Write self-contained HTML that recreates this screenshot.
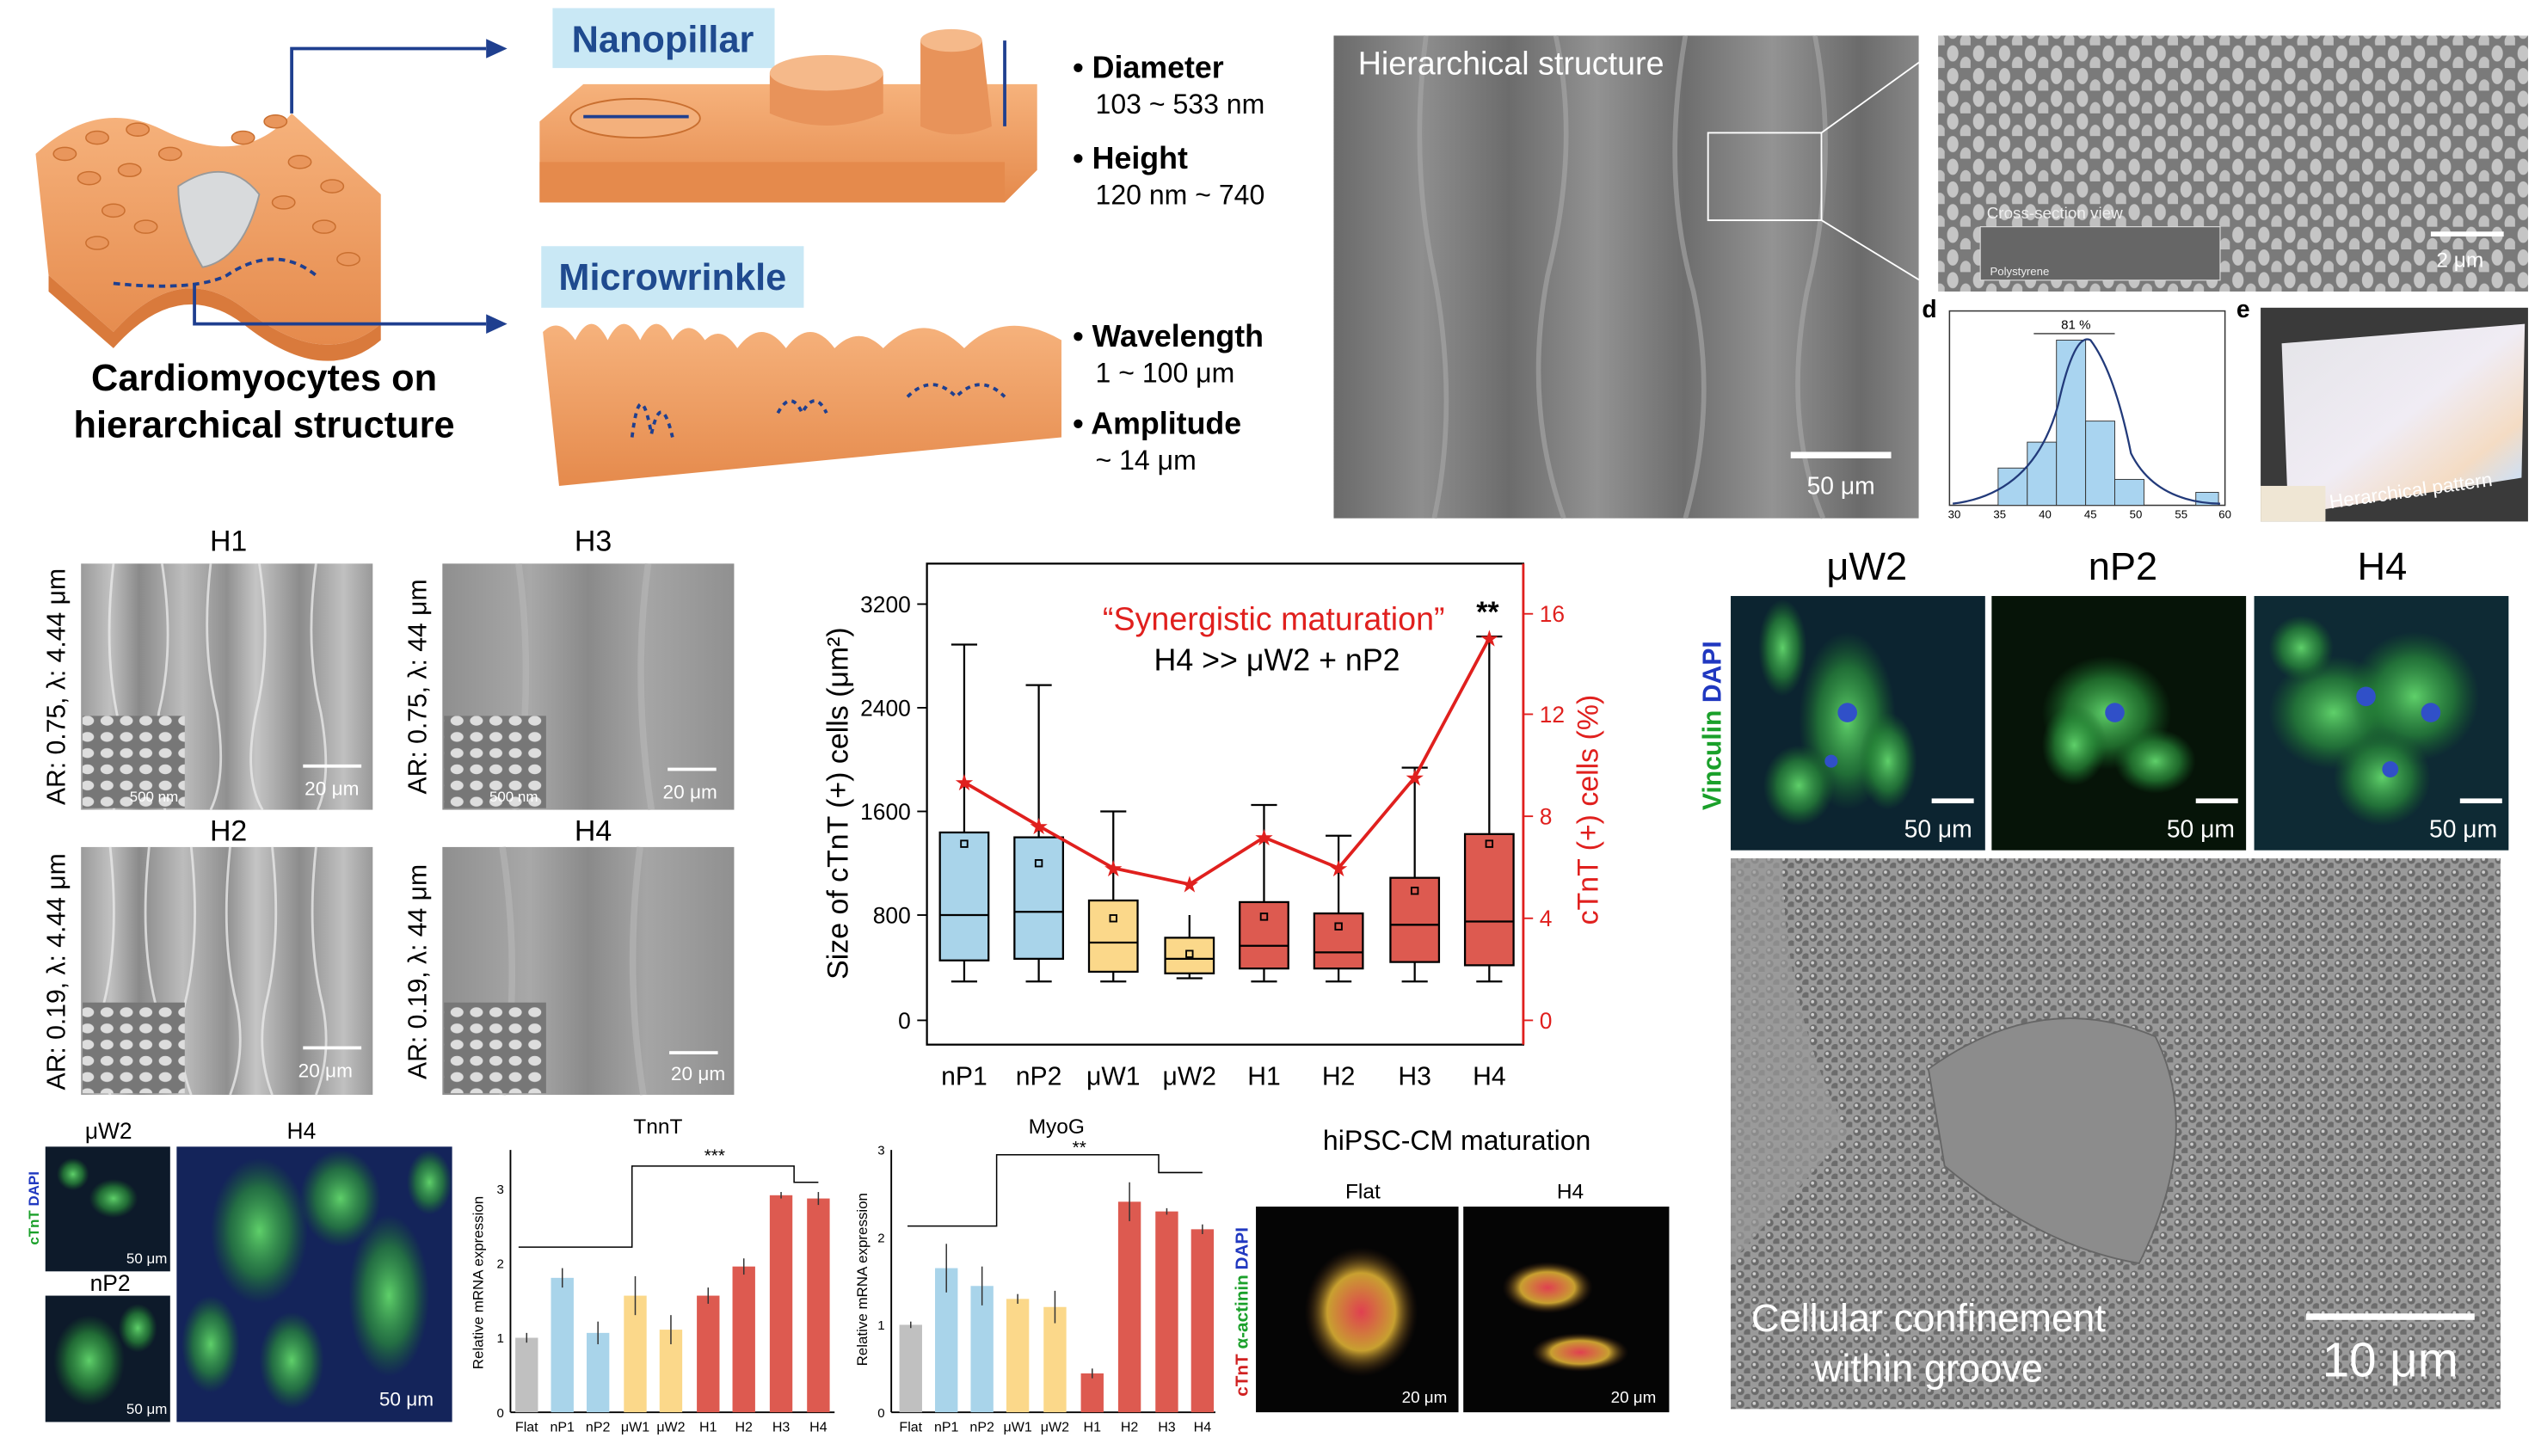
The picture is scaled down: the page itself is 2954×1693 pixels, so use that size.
<!DOCTYPE html>
<html><head><meta charset="utf-8"><style>
html,body{margin:0;padding:0;background:#fff;}
svg{display:block;}
text{font-family:"Liberation Sans",Arial,sans-serif;}
</style></head><body>
<svg width="2954" height="1693" viewBox="0 0 1568 899" preserveAspectRatio="none" xmlns="http://www.w3.org/2000/svg">
<defs>
<linearGradient id="orange" x1="0" y1="0" x2="0" y2="1"><stop offset="0" stop-color="#f6b27c"/><stop offset="1" stop-color="#e58a4c"/></linearGradient>
<linearGradient id="semg" x1="0" y1="0" x2="1" y2="0">
<stop offset="0" stop-color="#6a6a6a"/><stop offset="0.15" stop-color="#8e8e8e"/><stop offset="0.3" stop-color="#6c6c6c"/><stop offset="0.45" stop-color="#929292"/><stop offset="0.6" stop-color="#6e6e6e"/><stop offset="0.75" stop-color="#939393"/><stop offset="0.9" stop-color="#6b6b6b"/><stop offset="1" stop-color="#888"/></linearGradient>
<linearGradient id="semg2" x1="0" y1="0" x2="1" y2="0">
<stop offset="0" stop-color="#9a9a9a"/><stop offset="0.1" stop-color="#c0c0c0"/><stop offset="0.2" stop-color="#8a8a8a"/><stop offset="0.35" stop-color="#bcbcbc"/><stop offset="0.5" stop-color="#909090"/><stop offset="0.6" stop-color="#c5c5c5"/><stop offset="0.75" stop-color="#8c8c8c"/><stop offset="0.9" stop-color="#c0c0c0"/><stop offset="1" stop-color="#999"/></linearGradient>
<linearGradient id="semg3" x1="0" y1="0" x2="1" y2="0">
<stop offset="0" stop-color="#8f8f8f"/><stop offset="0.3" stop-color="#a8a8a8"/><stop offset="0.5" stop-color="#8a8a8a"/><stop offset="0.7" stop-color="#a5a5a5"/><stop offset="1" stop-color="#909090"/></linearGradient>
<linearGradient id="irid" x1="0" y1="0" x2="1" y2="1"><stop offset="0" stop-color="#e4e4e8"/><stop offset="0.5" stop-color="#f0ecf4"/><stop offset="0.75" stop-color="#f4dcc4"/><stop offset="0.9" stop-color="#cfe0f4"/><stop offset="1" stop-color="#ecc8dc"/></linearGradient>
<pattern id="pill" width="16" height="14" patternUnits="userSpaceOnUse"><rect width="16" height="14" fill="#7a7a7a"/><ellipse cx="5" cy="5" rx="3.5" ry="5" fill="#c5c5c5"/><ellipse cx="13" cy="12" rx="3.5" ry="5" fill="#c0c0c0"/></pattern>
<pattern id="dots" width="9" height="8" patternUnits="userSpaceOnUse"><rect width="9" height="8" fill="#9a9a9a"/><circle cx="3" cy="3" r="2.4" fill="#6a6a6a"/><circle cx="7.5" cy="7" r="2.4" fill="#6c6c6c"/><circle cx="2.5" cy="2.5" r="1" fill="#cfcfcf"/></pattern>
<pattern id="small" width="12" height="10" patternUnits="userSpaceOnUse"><rect width="12" height="10" fill="#777"/><ellipse cx="6" cy="5" rx="4" ry="3" fill="#ddd"/></pattern>
<radialGradient id="gcell"><stop offset="0" stop-color="#5fd06a"/><stop offset="0.6" stop-color="#2a8e3a" stop-opacity="0.7"/><stop offset="1" stop-color="#1a6e2a" stop-opacity="0"/></radialGradient>
<radialGradient id="rcell"><stop offset="0" stop-color="#e04050"/><stop offset="0.6" stop-color="#c8a030"/><stop offset="1" stop-color="#402010" stop-opacity="0"/></radialGradient>
</defs>

<!-- Top-left schematic -->
<path d="M22 95 Q60 60 100 80 Q150 105 180 70 L235 120 L235 200 Q200 230 150 190 Q110 160 70 205 L30 170 Z" fill="url(#orange)"/>
<path d="M30 170 L70 205 Q110 160 150 190 Q200 230 235 200 L235 210 Q200 240 150 200 Q110 170 70 215 L30 180Z" fill="#d97a3c"/>
<g fill="#e9965c" stroke="#c96f30" stroke-width="0.8">
<ellipse cx="40" cy="95" rx="7" ry="4"/><ellipse cx="60" cy="85" rx="7" ry="4"/><ellipse cx="85" cy="80" rx="7" ry="4"/><ellipse cx="55" cy="110" rx="7" ry="4"/><ellipse cx="80" cy="105" rx="7" ry="4"/><ellipse cx="105" cy="95" rx="7" ry="4"/><ellipse cx="70" cy="130" rx="7" ry="4"/><ellipse cx="150" cy="85" rx="7" ry="4"/><ellipse cx="170" cy="75" rx="7" ry="4"/><ellipse cx="185" cy="100" rx="7" ry="4"/><ellipse cx="205" cy="115" rx="7" ry="4"/><ellipse cx="175" cy="125" rx="7" ry="4"/><ellipse cx="200" cy="140" rx="7" ry="4"/><ellipse cx="215" cy="160" rx="7" ry="4"/><ellipse cx="60" cy="150" rx="7" ry="4"/><ellipse cx="90" cy="140" rx="7" ry="4"/></g>
<path d="M110 115 Q140 95 160 120 Q150 160 125 165 Q110 140 110 115Z" fill="#d8dadc" stroke="#999"/>
<path d="M70 175 Q120 180 140 170 Q170 150 195 170" fill="none" stroke="#1f3f8f" stroke-width="2" stroke-dasharray="4 3"/>
<path d="M180 70 L180 30 L300 30" fill="none" stroke="#1f3f8f" stroke-width="2"/><polygon points="300,24 313,30 300,36" fill="#1f3f8f"/>
<path d="M120 175 L120 200 L300 200" fill="none" stroke="#1f3f8f" stroke-width="2"/><polygon points="300,194 313,200 300,206" fill="#1f3f8f"/>
<text x="163" y="241" font-size="23" font-weight="bold" text-anchor="middle">Cardiomyocytes on</text>
<text x="163" y="270" font-size="23" font-weight="bold" text-anchor="middle">hierarchical structure</text>

<!-- Nanopillar -->
<rect x="341" y="5" width="137" height="37" fill="#c9e8f5"/>
<text x="409" y="32" font-size="23" font-weight="bold" fill="#1f4a8f" text-anchor="middle">Nanopillar</text>
<polygon points="333,75 360,52 640,52 640,105 620,125 333,125" fill="url(#orange)"/>
<polygon points="333,100 620,100 620,125 333,125" fill="#e58a4c"/>
<ellipse cx="392" cy="73" rx="40" ry="12" fill="#f3b07c" stroke="#c96f30"/>
<path d="M475 45 L475 70 Q510 85 545 70 L545 45Z" fill="#e8935a"/><ellipse cx="510" cy="45" rx="35" ry="11" fill="#f5b98a"/>
<path d="M568 25 L568 78 Q590 88 612 78 L606 25Z" fill="#e8935a"/><ellipse cx="587" cy="25" rx="19" ry="7" fill="#f5b98a"/>
<line x1="360" y1="72" x2="425" y2="72" stroke="#1f3f8f" stroke-width="2"/>
<line x1="620" y1="25" x2="620" y2="78" stroke="#1f3f8f" stroke-width="2"/>
<!-- Microwrinkle -->
<rect x="334" y="152" width="162" height="38" fill="#c9e8f5"/>
<text x="415" y="179" font-size="23" font-weight="bold" fill="#1f4a8f" text-anchor="middle">Microwrinkle</text>
<path d="M335 205 Q345 195 355 210 Q365 190 375 210 Q385 190 395 210 Q405 190 415 210 Q425 195 435 210 Q445 200 455 215 Q470 195 485 215 Q500 195 515 215 Q530 200 545 215 Q570 190 595 215 Q620 190 655 210 L655 270 L345 300 Z" fill="url(#orange)"/>
<path d="M390 270 Q395 230 402 268 Q408 240 415 270 M480 255 Q488 240 495 255 Q503 240 510 255 M560 245 Q575 230 590 245 Q605 230 620 245" fill="none" stroke="#1f3f8f" stroke-width="2" stroke-dasharray="3 3"/>
<!-- bullets -->
<g font-size="19">
<text x="662" y="48" font-weight="bold">• Diameter</text><text x="676" y="70" font-size="17">103 ~ 533 nm</text>
<text x="662" y="104" font-weight="bold">• Height</text><text x="676" y="126" font-size="17">120 nm ~ 740</text>
<text x="662" y="214" font-weight="bold">• Wavelength</text><text x="676" y="236" font-size="17">1 ~ 100 μm</text>
<text x="662" y="268" font-weight="bold">• Amplitude</text><text x="676" y="290" font-size="17">~ 14 μm</text>
</g>

<!-- Hierarchical SEM -->
<rect x="823" y="22" width="361" height="298" fill="url(#semg)"/>
<g fill="none" stroke="#a8a8a8" stroke-width="3" opacity="0.6">
<path d="M880 22 Q870 100 885 170 Q900 250 885 320"/><path d="M960 22 Q975 90 955 170 Q940 250 965 320"/><path d="M1040 22 Q1025 110 1045 180 Q1060 250 1040 320"/><path d="M1120 22 Q1135 100 1115 180 Q1100 260 1125 320"/></g>
<text x="838" y="46" font-size="20" fill="#fff">Hierarchical structure</text>
<rect x="1054" y="82" width="70" height="54" fill="none" stroke="#fff"/>
<line x1="1124" y1="82" x2="1196" y2="30" stroke="#fff"/><line x1="1124" y1="136" x2="1196" y2="180" stroke="#fff"/>
<rect x="1105" y="279" width="62" height="4" fill="#fff"/>
<text x="1136" y="305" font-size="15" fill="#fff" text-anchor="middle">50 μm</text>
<!-- top-right pillars -->
<rect x="1196" y="22" width="364" height="158" fill="url(#pill)"/>
<rect x="1222" y="140" width="148" height="33" fill="#666" stroke="#ddd" stroke-width="0.6"/>
<text x="1226" y="135" font-size="10" fill="#eee">Cross-section view</text>
<text x="1228" y="170" font-size="7" fill="#eee">Polystyrene</text>
<rect x="1500" y="143" width="45" height="3" fill="#fff"/><text x="1518" y="165" font-size="13" fill="#fff" text-anchor="middle">2 μm</text>
<!-- d histogram -->
<text x="1186" y="196" font-size="15" font-weight="bold">d</text>
<rect x="1203" y="192" width="170" height="120" fill="none" stroke="#333" stroke-width="0.8"/>
<g fill="#a9d4f0" stroke="#333" stroke-width="0.5">
<rect x="1233" y="289" width="18" height="23"/><rect x="1251" y="273" width="18" height="39"/><rect x="1269" y="210" width="18" height="102"/><rect x="1287" y="260" width="18" height="52"/><rect x="1305" y="296" width="18" height="16"/><rect x="1355" y="304" width="14" height="8"/></g>
<path d="M1205 311 Q1255 305 1270 250 Q1280 205 1290 210 Q1305 230 1315 280 Q1330 310 1370 311" fill="none" stroke="#223a7a" stroke-width="1.2"/>
<line x1="1255" y1="206" x2="1305" y2="206" stroke="#333" stroke-width="0.7"/><text x="1281" y="203" font-size="8" text-anchor="middle">81 %</text>
<g font-size="7" text-anchor="middle"><text x="1206" y="320">30</text><text x="1234" y="320">35</text><text x="1262" y="320">40</text><text x="1290" y="320">45</text><text x="1318" y="320">50</text><text x="1346" y="320">55</text><text x="1373" y="320">60</text></g>
<!-- e -->
<text x="1380" y="196" font-size="15" font-weight="bold">e</text>
<rect x="1395" y="190" width="165" height="132" fill="#3a3a3a"/>
<polygon points="1408,212 1558,200 1556,295 1412,318" fill="url(#irid)"/>
<rect x="1395" y="300" width="40" height="22" fill="#efe6d4"/>
<text x="1438" y="314" font-size="12" fill="#fff" transform="rotate(-8 1438 314)">Herarchical pattern</text>

<!-- H panels -->
<g font-size="18" text-anchor="middle"><text x="141" y="340">H1</text><text x="366" y="340">H3</text><text x="141" y="519">H2</text><text x="366" y="519">H4</text></g>
<rect x="50" y="348" width="180" height="152" fill="url(#semg2)"/>
<rect x="273" y="348" width="180" height="152" fill="url(#semg3)"/>
<rect x="50" y="523" width="180" height="153" fill="url(#semg2)"/>
<rect x="273" y="523" width="180" height="153" fill="url(#semg3)"/>
<g fill="none" stroke="#e8e8e8" stroke-width="1.5" opacity="0.8">
<path d="M70 348 Q64 400 72 440 Q80 480 70 500"/><path d="M100 348 Q108 400 98 440 Q92 480 102 500"/><path d="M130 348 Q124 400 134 440 Q140 480 130 500"/><path d="M160 348 Q168 400 158 440 Q150 480 162 500"/><path d="M195 348 Q188 400 198 440 Q205 480 196 500"/>
<path d="M68 523 Q74 580 64 620 Q58 650 68 676"/><path d="M92 523 Q86 580 96 620"/><path d="M118 523 Q124 580 114 620 Q108 650 118 676"/><path d="M142 523 Q136 580 146 620 Q152 650 142 676"/><path d="M168 523 Q174 580 164 620 Q158 650 168 676"/><path d="M195 523 Q189 580 199 620 Q205 650 195 676"/></g>
<g fill="none" stroke="#b8b8b8" stroke-width="4" opacity="0.6">
<path d="M320 348 Q330 420 318 500"/><path d="M400 348 Q390 420 402 500"/><path d="M310 523 Q322 600 310 676"/><path d="M395 523 Q385 600 397 676"/></g>
<rect x="51" y="442" width="63" height="57" fill="url(#small)"/>
<rect x="274" y="442" width="63" height="57" fill="url(#small)"/>
<rect x="51" y="619" width="63" height="56" fill="url(#small)"/>
<rect x="274" y="619" width="63" height="56" fill="url(#small)"/>
<g fill="#fff" font-size="12"><rect x="187" y="472" width="36" height="2"/><text x="188" y="491">20 μm</text>
<rect x="412" y="474" width="30" height="2"/><text x="409" y="493">20 μm</text>
<rect x="187" y="646" width="36" height="2"/><text x="184" y="665">20 μm</text>
<rect x="413" y="649" width="30" height="2"/><text x="414" y="667">20 μm</text>
<text x="80" y="495" font-size="9">500 nm</text><text x="302" y="495" font-size="9">500 nm</text></g>
<g font-size="16"><text transform="translate(40 424) rotate(-90)" text-anchor="middle">AR: 0.75, λ: 4.44 μm</text>
<text transform="translate(263 424) rotate(-90)" text-anchor="middle">AR: 0.75, λ: 44 μm</text>
<text transform="translate(40 600) rotate(-90)" text-anchor="middle">AR: 0.19, λ: 4.44 μm</text>
<text transform="translate(263 600) rotate(-90)" text-anchor="middle">AR: 0.19, λ: 44 μm</text></g>

<!-- Box plot -->
<rect x="572" y="348" width="368" height="297" fill="none" stroke="#000" stroke-width="1.2"/>
<line x1="940" y1="348" x2="940" y2="645" stroke="#e0201e" stroke-width="1.5"/>
<g font-size="14" text-anchor="end">
<text x="562" y="635">0</text><text x="562" y="570">800</text><text x="562" y="506">1600</text><text x="562" y="442">2400</text><text x="562" y="378">3200</text></g>
<g stroke="#000"><line x1="566" y1="630" x2="572" y2="630"/><line x1="566" y1="565" x2="572" y2="565"/><line x1="566" y1="501" x2="572" y2="501"/><line x1="566" y1="437" x2="572" y2="437"/><line x1="566" y1="373" x2="572" y2="373"/></g>
<g font-size="14" fill="#e0201e"><text x="950" y="635">0</text><text x="950" y="572">4</text><text x="950" y="509">8</text><text x="950" y="446">12</text><text x="950" y="384">16</text></g>
<g stroke="#e0201e"><line x1="940" y1="630" x2="946" y2="630"/><line x1="940" y1="567" x2="946" y2="567"/><line x1="940" y1="504" x2="946" y2="504"/><line x1="940" y1="441" x2="946" y2="441"/><line x1="940" y1="379" x2="946" y2="379"/></g>
<text transform="translate(523 496) rotate(-90)" font-size="18" text-anchor="middle">Size of cTnT (+) cells (μm²)</text>
<text transform="translate(986 500) rotate(-90)" font-size="18" text-anchor="middle" fill="#e0201e">cTnT (+) cells (%)</text>
<g font-size="16" text-anchor="middle"><text x="595" y="670">nP1</text><text x="641" y="670">nP2</text><text x="687" y="670">μW1</text><text x="734" y="670">μW2</text><text x="780" y="670">H1</text><text x="826" y="670">H2</text><text x="873" y="670">H3</text><text x="919" y="670">H4</text></g>
<g stroke="#000" stroke-width="1.2">
<g fill="#a9d4ea"><line x1="595" y1="398" x2="595" y2="606"/><line x1="587" y1="398" x2="603" y2="398"/><line x1="587" y1="606" x2="603" y2="606"/><rect x="580" y="514" width="30" height="79"/><line x1="580" y1="565" x2="610" y2="565"/></g>
<g fill="#a9d4ea"><line x1="641" y1="423" x2="641" y2="606"/><line x1="633" y1="423" x2="649" y2="423"/><line x1="633" y1="606" x2="649" y2="606"/><rect x="626" y="517" width="30" height="75"/><line x1="626" y1="563" x2="656" y2="563"/></g>
<g fill="#fbd88a"><line x1="687" y1="501" x2="687" y2="606"/><line x1="679" y1="501" x2="695" y2="501"/><line x1="679" y1="606" x2="695" y2="606"/><rect x="672" y="556" width="30" height="44"/><line x1="672" y1="582" x2="702" y2="582"/></g>
<g fill="#fbd88a"><line x1="734" y1="565" x2="734" y2="604"/><line x1="726" y1="604" x2="742" y2="604"/><rect x="719" y="579" width="30" height="22"/><line x1="719" y1="592" x2="749" y2="592"/></g>
<g fill="#dd5a50"><line x1="780" y1="497" x2="780" y2="606"/><line x1="772" y1="497" x2="788" y2="497"/><line x1="772" y1="606" x2="788" y2="606"/><rect x="765" y="557" width="30" height="41"/><line x1="765" y1="584" x2="795" y2="584"/></g>
<g fill="#dd5a50"><line x1="826" y1="516" x2="826" y2="606"/><line x1="818" y1="516" x2="834" y2="516"/><line x1="818" y1="606" x2="834" y2="606"/><rect x="811" y="564" width="30" height="34"/><line x1="811" y1="588" x2="841" y2="588"/></g>
<g fill="#dd5a50"><line x1="873" y1="474" x2="873" y2="606"/><line x1="865" y1="474" x2="881" y2="474"/><line x1="865" y1="606" x2="881" y2="606"/><rect x="858" y="542" width="30" height="52"/><line x1="858" y1="571" x2="888" y2="571"/></g>
<g fill="#dd5a50"><line x1="919" y1="393" x2="919" y2="606"/><line x1="911" y1="393" x2="927" y2="393"/><line x1="911" y1="606" x2="927" y2="606"/><rect x="904" y="515" width="30" height="81"/><line x1="904" y1="569" x2="934" y2="569"/></g>
</g>
<g fill="none" stroke="#000" stroke-width="1"><rect x="593" y="519" width="4" height="4"/><rect x="639" y="531" width="4" height="4"/><rect x="685" y="565" width="4" height="4"/><rect x="732" y="587" width="4" height="4"/><rect x="778" y="564" width="4" height="4"/><rect x="824" y="570" width="4" height="4"/><rect x="871" y="548" width="4" height="4"/><rect x="917" y="519" width="4" height="4"/></g>
<polyline points="595,483 641,510 687,536 734,546 780,517 826,536 873,480 919,394" fill="none" stroke="#e0201e" stroke-width="2"/>
<g fill="#e0201e" font-size="14" text-anchor="middle"><text x="595" y="488">★</text><text x="641" y="515">★</text><text x="687" y="541">★</text><text x="734" y="551">★</text><text x="780" y="522">★</text><text x="826" y="541">★</text><text x="873" y="485">★</text><text x="919" y="399">★</text></g>
<text x="786" y="389" font-size="20" fill="#e0201e" text-anchor="middle">“Synergistic maturation”</text>
<text x="918" y="384" font-size="18" text-anchor="middle" font-weight="bold">**</text>
<text x="788" y="414" font-size="19" text-anchor="middle">H4 &gt;&gt; μW2 + nP2</text>

<!-- Fluorescence right -->
<g font-size="24" text-anchor="middle"><text x="1152" y="358">μW2</text><text x="1310" y="358">nP2</text><text x="1470" y="358">H4</text></g>
<text transform="translate(1062 448) rotate(-90)" font-size="16" font-weight="bold" text-anchor="middle"><tspan fill="#1aa02a">Vinculin </tspan><tspan fill="#2038c0">DAPI</tspan></text>
<rect x="1068" y="368" width="157" height="157" fill="#0c2430"/>
<rect x="1229" y="368" width="157" height="157" fill="#061408"/>
<rect x="1391" y="368" width="157" height="157" fill="#0e2a34"/>
<g fill="url(#gcell)"><ellipse cx="1140" cy="445" rx="30" ry="55"/><ellipse cx="1100" cy="400" rx="15" ry="30"/><ellipse cx="1110" cy="485" rx="22" ry="25"/><ellipse cx="1165" cy="470" rx="18" ry="30"/><ellipse cx="1300" cy="440" rx="40" ry="35"/><ellipse cx="1330" cy="470" rx="25" ry="20"/><ellipse cx="1280" cy="460" rx="20" ry="25"/><ellipse cx="1440" cy="440" rx="40" ry="35"/><ellipse cx="1490" cy="430" rx="40" ry="40"/><ellipse cx="1470" cy="480" rx="30" ry="30"/><ellipse cx="1420" cy="400" rx="20" ry="20"/></g>
<g fill="#3050c8"><circle cx="1140" cy="440" r="6"/><circle cx="1130" cy="470" r="4"/><circle cx="1305" cy="440" r="6"/><circle cx="1460" cy="430" r="6"/><circle cx="1500" cy="440" r="6"/><circle cx="1475" cy="475" r="5"/></g>
<g fill="#fff" font-size="15" text-anchor="middle"><rect x="1192" y="493" width="26" height="3"/><text x="1196" y="517">50 μm</text><rect x="1355" y="493" width="26" height="3"/><text x="1358" y="517">50 μm</text><rect x="1518" y="493" width="26" height="3"/><text x="1520" y="517">50 μm</text></g>
<!-- big SEM -->
<rect x="1068" y="530" width="475" height="340" fill="url(#dots)"/>
<path d="M1068 530 L1100 530 Q1100 620 1140 700 L1068 780Z" fill="#9a9a9a" opacity="0.7"/>
<path d="M1190 660 Q1260 610 1330 640 Q1360 700 1320 780 Q1260 770 1200 720Z" fill="#8c8c8c" stroke="#666"/>
<g fill="#fff" font-size="24" text-anchor="middle"><text x="1190" y="822">Cellular confinement</text><text x="1190" y="853">within groove</text></g>
<rect x="1423" y="811" width="104" height="4" fill="#fff"/><text x="1475" y="850" font-size="30" fill="#fff" text-anchor="middle">10 μm</text>

<!-- Bottom left fluorescence -->
<g font-size="14" text-anchor="middle"><text x="67" y="703">μW2</text><text x="186" y="703">H4</text><text x="68" y="797">nP2</text></g>
<text transform="translate(24 746) rotate(-90)" font-size="9" font-weight="bold" text-anchor="middle"><tspan fill="#1aa02a">cTnT </tspan><tspan fill="#2038c0">DAPI</tspan></text>
<rect x="28" y="708" width="77" height="77" fill="#0d1a2a"/>
<rect x="28" y="800" width="77" height="78" fill="#0d1a2a"/>
<rect x="109" y="708" width="170" height="170" fill="#14245a"/>
<g fill="url(#gcell)"><ellipse cx="70" cy="740" rx="15" ry="12"/><ellipse cx="45" cy="725" rx="10" ry="10"/><ellipse cx="55" cy="840" rx="22" ry="28"/><ellipse cx="85" cy="820" rx="12" ry="15"/><ellipse cx="160" cy="760" rx="30" ry="45"/><ellipse cx="240" cy="800" rx="25" ry="50"/><ellipse cx="180" cy="840" rx="20" ry="30"/><ellipse cx="210" cy="740" rx="25" ry="30"/><ellipse cx="130" cy="830" rx="18" ry="30"/><ellipse cx="265" cy="730" rx="14" ry="20"/></g>
<g fill="#fff" font-size="9"><text x="78" y="780">50 μm</text><text x="78" y="873">50 μm</text><text x="234" y="868" font-size="12">50 μm</text></g>

<!-- TnnT -->
<text x="406" y="700" font-size="13" text-anchor="middle">TnnT</text>
<line x1="315" y1="710" x2="315" y2="872" stroke="#000"/><line x1="315" y1="872" x2="515" y2="872" stroke="#000"/>
<g font-size="8" text-anchor="end"><text x="311" y="875">0</text><text x="311" y="829">1</text><text x="311" y="783">2</text><text x="311" y="737">3</text></g>
<text transform="translate(298 792) rotate(-90)" font-size="9" text-anchor="middle">Relative mRNA expression</text>
<g><rect x="318" y="826" width="14" height="46" fill="#c0c0c0"/><rect x="340" y="789" width="14" height="83" fill="#a9d4ea"/><rect x="362" y="823" width="14" height="49" fill="#a9d4ea"/><rect x="385" y="800" width="14" height="72" fill="#fbd88a"/><rect x="407" y="821" width="14" height="51" fill="#fbd88a"/><rect x="430" y="800" width="14" height="72" fill="#dd5a50"/><rect x="452" y="782" width="14" height="90" fill="#dd5a50"/><rect x="475" y="738" width="14" height="134" fill="#dd5a50"/><rect x="498" y="740" width="14" height="132" fill="#dd5a50"/></g>
<g stroke="#333" stroke-width="0.8"><line x1="325" y1="823" x2="325" y2="829"/><line x1="347" y1="783" x2="347" y2="795"/><line x1="369" y1="816" x2="369" y2="830"/><line x1="392" y1="788" x2="392" y2="812"/><line x1="414" y1="812" x2="414" y2="830"/><line x1="437" y1="795" x2="437" y2="805"/><line x1="459" y1="777" x2="459" y2="787"/><line x1="482" y1="736" x2="482" y2="740"/><line x1="505" y1="736" x2="505" y2="744"/></g>
<path d="M320 770 L390 770 L390 720 L490 720 L490 730 L505 730" fill="none" stroke="#000" stroke-width="0.8"/>
<text x="441" y="717" font-size="11" text-anchor="middle">***</text>
<g font-size="8.5" text-anchor="middle"><text x="325" y="884">Flat</text><text x="347" y="884">nP1</text><text x="369" y="884">nP2</text><text x="392" y="884">μW1</text><text x="414" y="884">μW2</text><text x="437" y="884">H1</text><text x="459" y="884">H2</text><text x="482" y="884">H3</text><text x="505" y="884">H4</text></g>
<!-- MyoG -->
<text x="652" y="700" font-size="13" text-anchor="middle">MyoG</text>
<line x1="550" y1="710" x2="550" y2="872" stroke="#000"/><line x1="550" y1="872" x2="750" y2="872" stroke="#000"/>
<g font-size="8" text-anchor="end"><text x="546" y="875">0</text><text x="546" y="821">1</text><text x="546" y="767">2</text><text x="546" y="713">3</text></g>
<text transform="translate(535 790) rotate(-90)" font-size="9" text-anchor="middle">Relative mRNA expression</text>
<g><rect x="555" y="818" width="14" height="54" fill="#c0c0c0"/><rect x="577" y="783" width="14" height="89" fill="#a9d4ea"/><rect x="599" y="794" width="14" height="78" fill="#a9d4ea"/><rect x="621" y="802" width="14" height="70" fill="#fbd88a"/><rect x="644" y="807" width="14" height="65" fill="#fbd88a"/><rect x="667" y="848" width="14" height="24" fill="#dd5a50"/><rect x="690" y="742" width="14" height="130" fill="#dd5a50"/><rect x="713" y="748" width="14" height="124" fill="#dd5a50"/><rect x="735" y="759" width="14" height="113" fill="#dd5a50"/></g>
<g stroke="#333" stroke-width="0.8"><line x1="562" y1="816" x2="562" y2="820"/><line x1="584" y1="768" x2="584" y2="798"/><line x1="606" y1="782" x2="606" y2="806"/><line x1="628" y1="799" x2="628" y2="805"/><line x1="651" y1="797" x2="651" y2="817"/><line x1="674" y1="845" x2="674" y2="851"/><line x1="697" y1="730" x2="697" y2="754"/><line x1="720" y1="746" x2="720" y2="750"/><line x1="742" y1="756" x2="742" y2="762"/></g>
<path d="M560 757 L615 757 L615 713 L715 713 L715 724 L742 724" fill="none" stroke="#000" stroke-width="0.8"/>
<text x="666" y="712" font-size="11" text-anchor="middle">**</text>
<g font-size="8.5" text-anchor="middle"><text x="562" y="884">Flat</text><text x="584" y="884">nP1</text><text x="606" y="884">nP2</text><text x="628" y="884">μW1</text><text x="651" y="884">μW2</text><text x="674" y="884">H1</text><text x="697" y="884">H2</text><text x="720" y="884">H3</text><text x="742" y="884">H4</text></g>

<!-- hiPSC -->
<text x="899" y="710" font-size="17" text-anchor="middle">hiPSC-CM maturation</text>
<g font-size="13" text-anchor="middle"><text x="841" y="740">Flat</text><text x="969" y="740">H4</text></g>
<text transform="translate(770 810) rotate(-90)" font-size="11" font-weight="bold" text-anchor="middle"><tspan fill="#d02020">cTnT </tspan><tspan fill="#1aa02a">α-actinin </tspan><tspan fill="#2038c0">DAPI</tspan></text>
<rect x="775" y="745" width="125" height="127" fill="#050505"/>
<rect x="903" y="745" width="127" height="127" fill="#050505"/>
<ellipse cx="840" cy="810" rx="35" ry="40" fill="url(#rcell)"/>
<ellipse cx="955" cy="795" rx="28" ry="16" fill="url(#rcell)"/><ellipse cx="975" cy="835" rx="30" ry="12" fill="url(#rcell)"/>
<g fill="#fff" font-size="10"><text x="865" y="866">20 μm</text><text x="994" y="866">20 μm</text></g>
</svg>
</body></html>
